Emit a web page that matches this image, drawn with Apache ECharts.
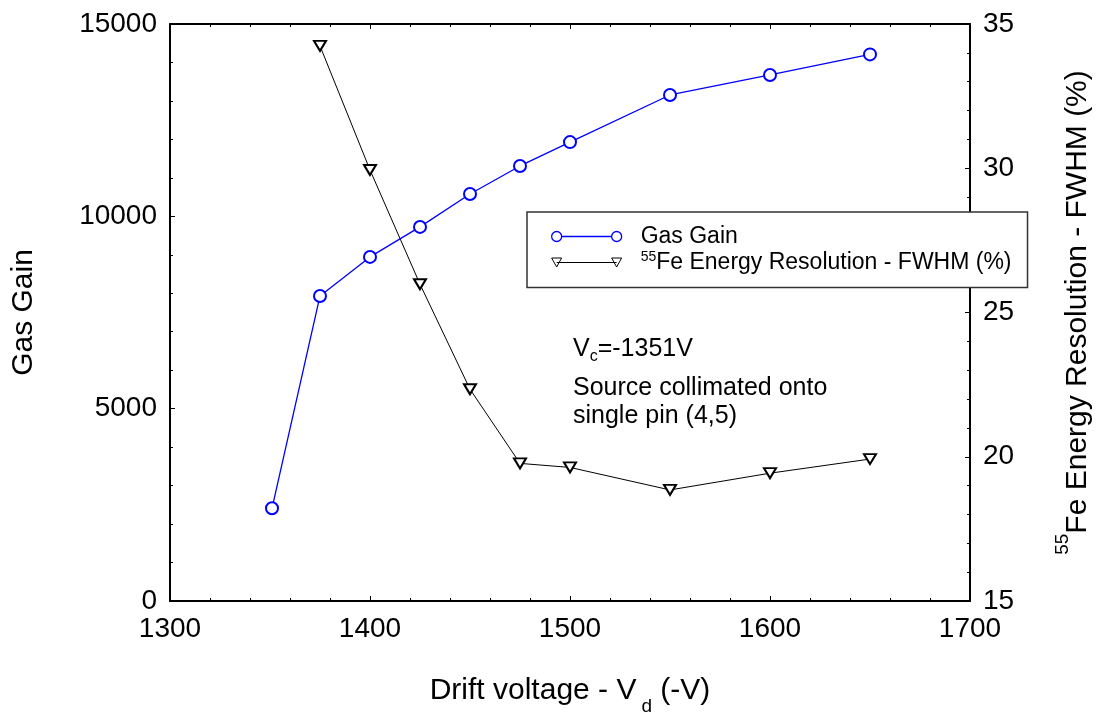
<!DOCTYPE html>
<html>
<head>
<meta charset="utf-8">
<script src="https://cdn.jsdelivr.net/npm/echarts@6/dist/echarts.min.js"></script>
<style>
html,body{margin:0;padding:0;background:#fff;}
#chart{width:1096px;height:713px;}
</style>
</head>
<body>
<div id="chart"></div>
<script>
// ---- data ----
const gainVoltage = [1351, 1375, 1400, 1425, 1450, 1475, 1500, 1550, 1600, 1650];
const gasGain = [2410, 7930, 8945, 9725, 10580, 11310, 11930, 13155, 13675, 14210];
const resVoltage = [1375, 1400, 1425, 1450, 1475, 1500, 1550, 1600, 1650];
const resolution = [34.24, 29.94, 25.98, 22.34, 19.77, 19.63, 18.85, 19.43, 19.92];
const annotationLines = ['Source collimated onto', 'single pin (4,5)'];
const gainName = 'Gas Gain';
const resName = '55Fe Energy Resolution - FWHM (%)';

const FONT = '"Liberation Sans", Arial, sans-serif';
const chart = echarts.init(document.getElementById('chart'), null, {renderer: 'canvas'});

const axisCommon = {
  axisLine: {show: true, onZero: false, lineStyle: {color: '#000', width: 2}},
  axisTick: {show: true, inside: true, length: 5, lineStyle: {color: '#000', width: 1}},
  minorTick: {show: true, splitNumber: 5, length: 3, lineStyle: {color: '#000', width: 1}},
  splitLine: {show: false},
  minorSplitLine: {show: false}
};
const plain = v => String(v);
const labelStyle = {fontFamily: FONT, fontSize: 28, color: '#000', formatter: plain};

chart.setOption({
  backgroundColor: '#fff',
  animation: false,
  grid: {left: 170, right: 126, top: 24, bottom: 112, containLabel: false, outerBoundsMode: 'none'},
  xAxis: [
    Object.assign({}, axisCommon, {
      type: 'value', position: 'bottom', min: 1300, max: 1700, interval: 100,
      axisLabel: Object.assign({margin: 14}, labelStyle),
      name: '{m|Drift voltage - V}{sub|d}{m| (-V)}',
      nameLocation: 'middle', nameGap: 75,
      nameTextStyle: {
        fontFamily: FONT, color: '#000',
        rich: {
          m: {fontFamily: FONT, fontSize: 30, color: '#000', lineHeight: 40, verticalAlign: 'top'},
          sub: {fontFamily: FONT, fontSize: 19, color: '#000', lineHeight: 18, verticalAlign: 'bottom', padding: [0, 0, 0, 5]}
        }
      }
    }),
    Object.assign({}, axisCommon, {
      type: 'value', position: 'top', min: 1300, max: 1700, interval: 100,
      axisLabel: {show: false}
    })
  ],
  yAxis: [
    Object.assign({}, axisCommon, {
      type: 'value', position: 'left', min: 0, max: 15000, interval: 5000,
      axisLabel: Object.assign({margin: 13}, labelStyle),
      name: gainName, nameLocation: 'middle', nameGap: 131, nameRotate: 90,
      nameTextStyle: {fontFamily: FONT, fontSize: 30, color: '#000'}
    }),
    Object.assign({}, axisCommon, {
      type: 'value', position: 'right', min: 15, max: 35, interval: 5,
      axisLabel: Object.assign({margin: 13}, labelStyle),
      name: '{sup|55}{m|Fe Energy Resolution - FWHM (%)}',
      nameLocation: 'middle', nameGap: 83, nameRotate: 90,
      nameTextStyle: {
        fontFamily: FONT, color: '#000',
        rich: {
          m: {fontFamily: FONT, fontSize: 30, color: '#000', lineHeight: 40, verticalAlign: 'bottom'},
          sup: {fontFamily: FONT, fontSize: 19, color: '#000', lineHeight: 18, verticalAlign: 'top'}
        }
      }
    })
  ],
  legend: {
    orient: 'vertical', left: 527, top: 212,
    padding: [13, 16, 13, 24],
    itemWidth: 70, itemHeight: 12, itemGap: 2,
    backgroundColor: '#fff', borderColor: '#333', borderWidth: 1.5, borderRadius: 0,
    z: 20, zlevel: 1,
    data: [
      {name: gainName,
       icon: 'path://M0,6 A5,5 0 1,0 10,6 A5,5 0 1,0 0,6 Z M10,6 L60,6 M60,6 A5,5 0 1,0 70,6 A5,5 0 1,0 60,6 Z',
       itemStyle: {color: 'rgba(0,0,0,0)', borderColor: '#0000ff', borderWidth: 1.3}},
      {name: resName,
       icon: 'path://M0,1 L10,1 L5,10 Z M5,5.5 L65,5.5 M60,1 L70,1 L65,10 Z',
       itemStyle: {color: 'rgba(0,0,0,0)', borderColor: '#000', borderWidth: 1}}
    ],
    formatter: function (name) {
      if (name === resName) return '{g| }{sup|55}{t|Fe Energy Resolution - FWHM (%)}';
      return '{g| }{t|' + name + '}';
    },
    textStyle: {
      fontFamily: FONT, fontSize: 23, color: '#000',
      rich: {
        g: {width: 14},
        t: {fontFamily: FONT, fontSize: 23, color: '#000', lineHeight: 24, verticalAlign: 'bottom'},
        sup: {fontFamily: FONT, fontSize: 14, color: '#000', lineHeight: 14, verticalAlign: 'top'}
      }
    }
  },
  graphic: [
    {type: 'text', left: 573, top: 337, z: 10,
     style: {
       text: '{m|V}{sub|c}{m|=-1351V}',
       rich: {
         m: {fontFamily: FONT, fontSize: 25, fill: '#000', lineHeight: 28, verticalAlign: 'top'},
         sub: {fontFamily: FONT, fontSize: 16, fill: '#000', lineHeight: 16, verticalAlign: 'bottom'}
       }
     }},
    {type: 'text', left: 573, top: 376, z: 10,
     style: {text: annotationLines[0], fontFamily: FONT, fontSize: 25, fill: '#000'}},
    {type: 'text', left: 573, top: 404, z: 10,
     style: {text: annotationLines[1], fontFamily: FONT, fontSize: 25, fill: '#000'}}
  ],
  series: [
    {
      name: gainName, type: 'line', xAxisIndex: 0, yAxisIndex: 0,
      data: gainVoltage.map((v, i) => [v, gasGain[i]]),
      symbol: 'emptyCircle', symbolSize: 12,
      lineStyle: {color: '#0000ff', width: 1.3},
      itemStyle: {color: '#0000ff', borderWidth: 1.3},
      z: 3
    },
    {
      name: resName, type: 'line', xAxisIndex: 0, yAxisIndex: 1,
      data: resVoltage.map((v, i) => [v, resolution[i]]),
      symbol: 'emptyTriangle', symbolRotate: 180, symbolSize: [12, 10],
      lineStyle: {color: '#000', width: 1},
      itemStyle: {color: '#000', borderWidth: 1},
      z: 2
    }
  ]
});
</script>
</body>
</html>
